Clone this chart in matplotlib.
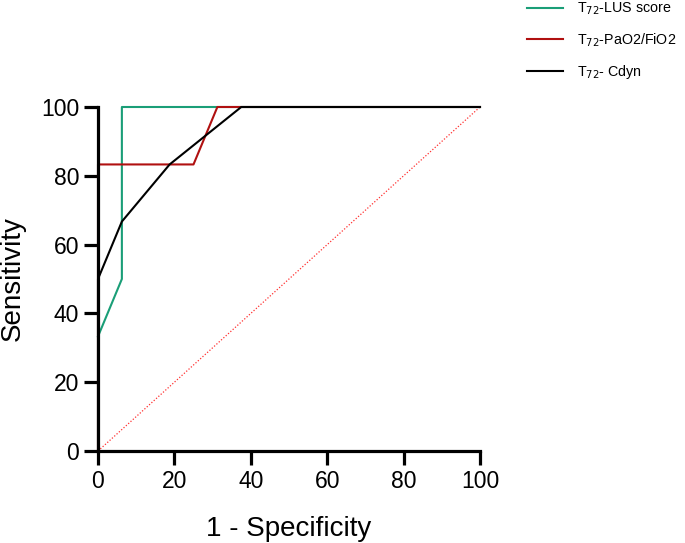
import matplotlib
matplotlib.use("Agg")
import matplotlib.pyplot as plt

plt.rcParams['font.family'] = ['Liberation Sans', 'DejaVu Sans']

lus_x = [0, 6.25, 6.25, 100]
lus_y = [33.3, 50, 100, 100]
pf_x = [0, 0, 25, 31.25, 100]
pf_y = [0, 83.3, 83.3, 100, 100]
cd_x = [0, 0, 6.25, 18.75, 37.5, 100]
cd_y = [0, 50, 66.7, 83.3, 100, 100]
ref_x = [0, 100]
ref_y = [0, 100]
labels = [r'T$_{72}$-LUS score', r'T$_{72}$-PaO2/FiO2', r'T$_{72}$- Cdyn']
ticks = [0, 20, 40, 60, 80, 100]

fig = plt.figure(figsize=(6.85, 5.43), dpi=100)
ax = fig.add_axes([98/685, 1-451/543, 382/685, 344/543])

ax.plot(ref_x, ref_y, color='#ff3030', lw=0.9, ls=(0, (1, 1.5)), clip_on=False)
l1, = ax.plot(lus_x, lus_y, color='#1a9e77', lw=1.5, clip_on=False, label=labels[0])
l2, = ax.plot(pf_x, pf_y, color='#b01010', lw=1.5, clip_on=False, label=labels[1])
l3, = ax.plot(cd_x, cd_y, color='black', lw=1.5, clip_on=False, label=labels[2])

ax.set_xlim(0, 100)
ax.set_ylim(0, 100)
ax.set_xticks(ticks)
ax.set_yticks(ticks)
for s in ['top', 'right']:
    ax.spines[s].set_visible(False)
for s in ['left', 'bottom']:
    ax.spines[s].set_linewidth(2.3)
ax.tick_params(width=2.3, length=10, labelsize=16.5, direction='out', pad=3.5)
ax.set_xlabel('1 - Specificity', fontsize=20, labelpad=17)
ax.set_ylabel('Sensitivity', fontsize=20, labelpad=11)

fig.legend(handles=[l1, l2, l3], labels=labels, loc='upper left',
           bbox_to_anchor=(527/685, 1.0 - 1/543), frameon=False, fontsize=10.3,
           handlelength=2.5, handletextpad=1.0, labelspacing=0.98,
           borderpad=0, borderaxespad=0)

fig.savefig('out.png', dpi=100)
